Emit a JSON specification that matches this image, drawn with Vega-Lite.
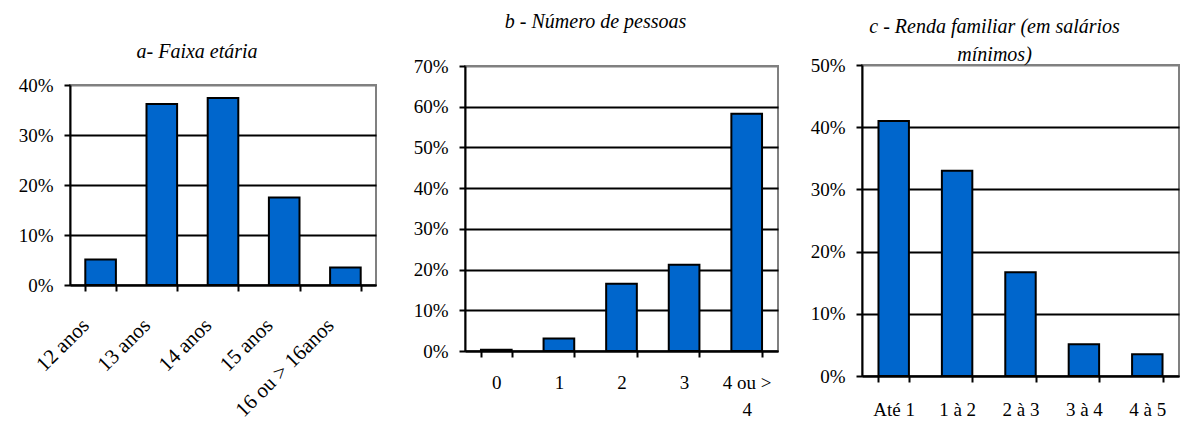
{
  "$schema": "https://vega.github.io/schema/vega-lite/v6.json",
  "padding": {"left": 17, "top": 0, "right": 0, "bottom": 0},
  "spacing": 35,
  "config": {
    "font": "Liberation Serif",
    "view": {"stroke": "#808080", "strokeWidth": 2},
    "axis": {
      "labelFont": "Liberation Serif",
      "labelFontSize": 19,
      "labelColor": "#000",
      "domainColor": "#000",
      "domainWidth": 2,
      "tickColor": "#000",
      "tickWidth": 2,
      "tickSize": 6
    },
    "axisX": {"grid": false, "tickBand": "extent", "labelAngle": 0, "labelOverlap": false},
    "axisY": {"grid": true, "gridWidth": 2, "labelPadding": 11, "labelExpr": "datum.value + '%'"},
    "title": {
      "font": "Liberation Serif",
      "fontSize": 20,
      "fontStyle": "italic",
      "fontWeight": "normal",
      "color": "#000",
      "baseline": "bottom",
      "anchor": "middle",
      "frame": "bounds"
    }
  },
  "hconcat": [
    {
      "spacing": 0,
      "vconcat": [
        {"width": 10, "height": 41, "data": {"values": []}, "mark": "point", "encoding": {}, "view": {"stroke": null}},
        {
          "width": 306,
          "height": 200,
          "title": {"text": "a- Faixa etária", "offset": 14},
          "data": {"values": [
            {"faixa": "12 anos", "pct": 5.1},
            {"faixa": "13 anos", "pct": 36.2},
            {"faixa": "14 anos", "pct": 37.4},
            {"faixa": "15 anos", "pct": 17.5},
            {"faixa": "16 ou > 16anos", "pct": 3.5}
          ]},
          "mark": {"type": "bar", "fill": "#0066CC", "stroke": "#000", "strokeWidth": 2},
          "encoding": {
            "x": {
              "field": "faixa", "type": "nominal", "sort": null,
              "scale": {"paddingInner": 0.5, "paddingOuter": 0.25},
              "axis": {"title": null, "labelFontSize": 21, "labelAngle": -45, "labelAlign": "right", "labelBaseline": "middle", "labelPadding": 31, "labelOffset": -15}
            },
            "y": {
              "field": "pct", "type": "quantitative",
              "scale": {"domain": [0, 40], "nice": false},
              "axis": {"title": null, "values": [0, 10, 20, 30, 40],
                "gridColor": {"condition": {"test": "datum.value >= 40", "value": "#808080"}, "value": "#000"}}
            }
          }
        }
      ]
    },
    {
      "spacing": 30,
      "hconcat": [
        {
          "spacing": 0,
          "vconcat": [
            {"width": 10, "height": 11, "data": {"values": []}, "mark": "point", "encoding": {}, "view": {"stroke": null}},
            {
              "width": 313,
              "height": 285,
              "title": {"text": "b - Número de pessoas", "offset": 25},
              "data": {"values": [
                {"pessoas": "0", "pct": 0.3},
                {"pessoas": "1", "pct": 3.1},
                {"pessoas": "2", "pct": 16.5},
                {"pessoas": "3", "pct": 21.2},
                {"pessoas": "4 ou > 4", "pct": 58.3}
              ]},
              "mark": {"type": "bar", "fill": "#0066CC", "stroke": "#000", "strokeWidth": 2},
              "encoding": {
                "x": {
                  "field": "pessoas", "type": "nominal", "sort": null,
                  "scale": {"paddingInner": 0.51, "paddingOuter": 0.255},
                  "axis": {"title": null, "labelPadding": 16, "labelBaseline": "top", "labelLineHeight": 27,
                    "labelExpr": "datum.label == '4 ou > 4' ? ['4 ou >', '4'] : datum.label"}
                },
                "y": {
                  "field": "pct", "type": "quantitative",
                  "scale": {"domain": [0, 70], "nice": false},
                  "axis": {"title": null, "values": [0, 10, 20, 30, 40, 50, 60, 70],
                    "gridColor": {"condition": {"test": "datum.value >= 70", "value": "#808080"}, "value": "#000"}}
                }
              }
            }
          ]
        },
        {
          "spacing": 0,
          "vconcat": [
            {"width": 10, "height": 15, "data": {"values": []}, "mark": "point", "encoding": {}, "view": {"stroke": null}},
            {
              "width": 317,
              "height": 311,
              "title": {"text": ["c - Renda familiar (em salários", "mínimos)"], "lineHeight": 28.5, "offset": -9},
              "data": {"values": [
                {"renda": "Até 1", "pct": 41.0},
                {"renda": "1 à 2", "pct": 33.0},
                {"renda": "2 à 3", "pct": 16.7},
                {"renda": "3 à 4", "pct": 5.1},
                {"renda": "4 à 5", "pct": 3.5}
              ]},
              "mark": {"type": "bar", "fill": "#0066CC", "stroke": "#000", "strokeWidth": 2},
              "encoding": {
                "x": {
                  "field": "renda", "type": "nominal", "sort": null,
                  "scale": {"paddingInner": 0.52, "paddingOuter": 0.26},
                  "axis": {"title": null, "labelPadding": 18, "labelBaseline": "top"}
                },
                "y": {
                  "field": "pct", "type": "quantitative",
                  "scale": {"domain": [0, 50], "nice": false},
                  "axis": {"title": null, "values": [0, 10, 20, 30, 40, 50],
                    "gridColor": {"condition": {"test": "datum.value >= 50", "value": "#808080"}, "value": "#000"}}
                }
              }
            }
          ]
        }
      ]
    }
  ]
}
